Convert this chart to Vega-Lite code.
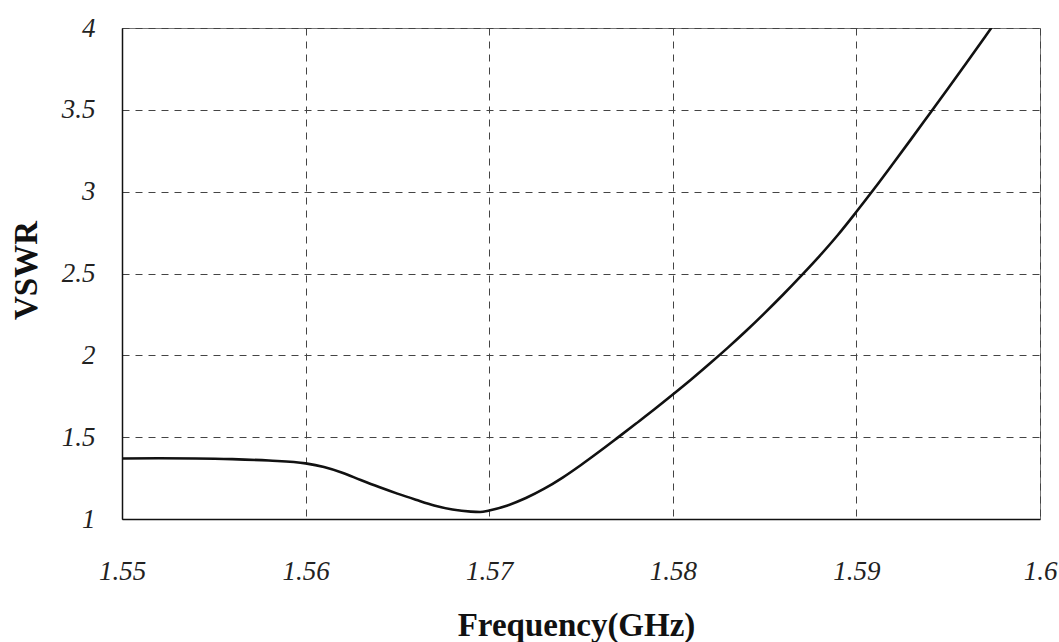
{
  "$schema": "https://vega.github.io/schema/vega-lite/v6.json",
  "width": 918,
  "height": 491,
  "autosize": "none",
  "padding": {"left": 122, "top": 28, "right": 19, "bottom": 123},
  "background": "white",
  "config": {
    "view": {"stroke": "#777", "strokeWidth": 1},
    "axis": {
      "labelFont": "Liberation Serif",
      "labelFontStyle": "italic",
      "labelFontSize": 27,
      "labelColor": "#222",
      "titleFont": "Liberation Serif",
      "titleFontWeight": "bold",
      "titleFontSize": 33,
      "titleColor": "#111",
      "gridColor": "#444",
      "gridDash": [7, 6],
      "gridWidth": 1,
      "gridOpacity": 1,
      "domainColor": "#111",
      "domainWidth": 1.5,
      "ticks": false
    }
  },
  "data": {
    "values": [
      {"f": 1.550, "v": 1.370},
      {"f": 1.552, "v": 1.371},
      {"f": 1.554, "v": 1.370},
      {"f": 1.556, "v": 1.366},
      {"f": 1.558, "v": 1.357},
      {"f": 1.560, "v": 1.340},
      {"f": 1.561, "v": 1.318},
      {"f": 1.562, "v": 1.283},
      {"f": 1.563, "v": 1.238},
      {"f": 1.564, "v": 1.195},
      {"f": 1.565, "v": 1.155},
      {"f": 1.566, "v": 1.118},
      {"f": 1.567, "v": 1.083},
      {"f": 1.568, "v": 1.058},
      {"f": 1.569, "v": 1.045},
      {"f": 1.5695, "v": 1.043},
      {"f": 1.570, "v": 1.052},
      {"f": 1.571, "v": 1.083},
      {"f": 1.572, "v": 1.128},
      {"f": 1.573, "v": 1.185},
      {"f": 1.574, "v": 1.253},
      {"f": 1.575, "v": 1.330},
      {"f": 1.576, "v": 1.412},
      {"f": 1.577, "v": 1.497},
      {"f": 1.578, "v": 1.583},
      {"f": 1.579, "v": 1.670},
      {"f": 1.580, "v": 1.760},
      {"f": 1.581, "v": 1.852},
      {"f": 1.582, "v": 1.948},
      {"f": 1.583, "v": 2.047},
      {"f": 1.584, "v": 2.150},
      {"f": 1.585, "v": 2.258},
      {"f": 1.586, "v": 2.370},
      {"f": 1.587, "v": 2.487},
      {"f": 1.588, "v": 2.608},
      {"f": 1.589, "v": 2.737},
      {"f": 1.590, "v": 2.877},
      {"f": 1.591, "v": 3.022},
      {"f": 1.592, "v": 3.172},
      {"f": 1.593, "v": 3.324},
      {"f": 1.594, "v": 3.478},
      {"f": 1.595, "v": 3.632},
      {"f": 1.596, "v": 3.788},
      {"f": 1.597, "v": 3.945},
      {"f": 1.5975, "v": 4.025}
    ]
  },
  "mark": {"type": "line", "color": "#111", "strokeWidth": 2.6, "interpolate": "monotone", "clip": true},
  "encoding": {
    "x": {
      "field": "f",
      "type": "quantitative",
      "scale": {"domain": [1.55, 1.6], "nice": false, "zero": false},
      "axis": {
        "values": [1.55, 1.56, 1.57, 1.58, 1.59, 1.6],
        "format": "~g",
        "labelPadding": 39,
        "labelDx": -5,
        "labelFlush": false,
        "title": "Frequency(GHz)",
        "titleX": 454,
        "titleY": 106,
        "titleBaseline": "middle"
      }
    },
    "y": {
      "field": "v",
      "type": "quantitative",
      "scale": {"domain": [1, 4], "nice": false, "zero": false},
      "axis": {
        "values": [1, 1.5, 2, 2.5, 3, 3.5, 4],
        "format": "~g",
        "labelPadding": 27,
        "labelFlush": false,
        "title": "VSWR",
        "titleX": -96,
        "titleY": 242,
        "titleBaseline": "middle"
      }
    }
  }
}
